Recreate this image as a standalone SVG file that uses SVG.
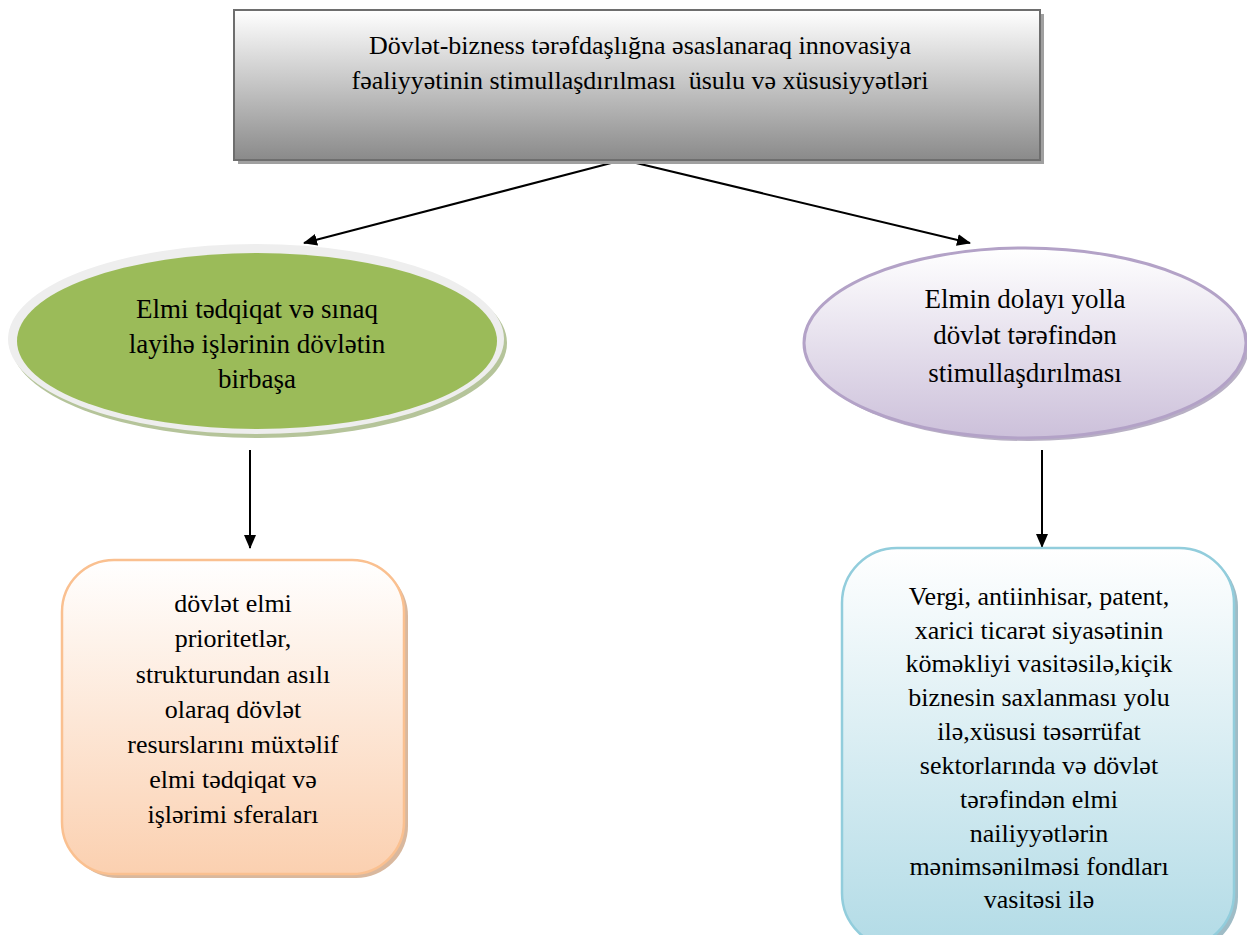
<svg xmlns="http://www.w3.org/2000/svg" width="1247" height="935" viewBox="0 0 1247 935">
<defs>
<linearGradient id="gTop" x1="0" y1="0" x2="0" y2="1"><stop offset="0" stop-color="#ffffff"/><stop offset="1" stop-color="#8a8a8a"/></linearGradient>
<linearGradient id="gPurple" x1="0" y1="0" x2="0" y2="1"><stop offset="0" stop-color="#ffffff"/><stop offset="1" stop-color="#ccc0da"/></linearGradient>
<linearGradient id="gPeach" x1="0" y1="0" x2="0" y2="1"><stop offset="0" stop-color="#ffffff"/><stop offset="1" stop-color="#fbd0b0"/></linearGradient>
<linearGradient id="gBlue" x1="0" y1="0" x2="0" y2="1"><stop offset="0" stop-color="#ffffff"/><stop offset="1" stop-color="#b2dbe6"/></linearGradient>
<marker id="ah" viewBox="0 0 14 12" refX="13" refY="6" markerWidth="14" markerHeight="12" markerUnits="userSpaceOnUse" orient="auto"><path d="M0,0 L14,6 L0,12 z" fill="#000"/></marker>
</defs>
<rect width="1247" height="935" fill="#fff"/>
<g id="connectors" stroke="#000" stroke-width="2" fill="none">
<line x1="615" y1="162" x2="304" y2="243" marker-end="url(#ah)"/>
<line x1="632" y1="162" x2="970" y2="243" marker-end="url(#ah)"/>
<line x1="250" y1="450" x2="250" y2="548" marker-end="url(#ah)"/>
<line x1="1042" y1="450" x2="1042" y2="547" marker-end="url(#ah)"/>
</g>
<g id="top">
<rect x="238" y="14" width="806" height="150" fill="#a0a0a0"/>
<rect x="234" y="10" width="806" height="150" fill="url(#gTop)" stroke="#6e6e6e" stroke-width="2"/>
<text x="640" y="54" font-family="'Liberation Serif', serif" font-size="26" text-anchor="middle">Dövlət-bizness tərəfdaşlığna əsaslanaraq innovasiya</text>
<text x="640" y="89" font-family="'Liberation Serif', serif" font-size="26" text-anchor="middle" xml:space="preserve">fəaliyyətinin stimullaşdırılması  üsulu və xüsusiyyətləri</text>
</g>
<g id="left-ellipse">
<ellipse cx="259" cy="343" rx="248" ry="95" fill="#b5c49a"/>
<ellipse cx="256" cy="339" rx="248" ry="95" fill="#eeeeee"/>
<ellipse cx="257" cy="341" rx="240" ry="88" fill="#9bbb59"/>
<text x="257" y="318" font-family="'Liberation Serif', serif" font-size="27" text-anchor="middle">Elmi tədqiqat və sınaq</text>
<text x="257" y="353" font-family="'Liberation Serif', serif" font-size="27" text-anchor="middle">layihə işlərinin dövlətin</text>
<text x="257" y="388" font-family="'Liberation Serif', serif" font-size="27" text-anchor="middle">birbaşa</text>
</g>
<g id="right-ellipse">
<ellipse cx="1028" cy="346" rx="221" ry="95" fill="#b8b0c4"/>
<ellipse cx="1025" cy="343" rx="221" ry="95" fill="url(#gPurple)" stroke="#b3a2c7" stroke-width="3"/>
<text x="1025" y="308" font-family="'Liberation Serif', serif" font-size="27" text-anchor="middle">Elmin dolayı yolla</text>
<text x="1025" y="344" font-family="'Liberation Serif', serif" font-size="27" text-anchor="middle">dövlət tərəfindən</text>
<text x="1025" y="382" font-family="'Liberation Serif', serif" font-size="27" text-anchor="middle">stimullaşdırılması</text>
</g>
<g id="left-box">
<rect x="66" y="564" width="342" height="314" rx="52" fill="#d9b89e"/>
<rect x="62" y="560" width="342" height="314" rx="52" fill="url(#gPeach)" stroke="#fac090" stroke-width="2.5"/>
<text x="233" y="612" font-family="'Liberation Serif', serif" font-size="26" text-anchor="middle">dövlət elmi</text>
<text x="233" y="647" font-family="'Liberation Serif', serif" font-size="26" text-anchor="middle">prioritetlər,</text>
<text x="233" y="683" font-family="'Liberation Serif', serif" font-size="26" text-anchor="middle">strukturundan asılı</text>
<text x="233" y="718" font-family="'Liberation Serif', serif" font-size="26" text-anchor="middle">olaraq dövlət</text>
<text x="233" y="753" font-family="'Liberation Serif', serif" font-size="26" text-anchor="middle">resurslarını müxtəlif</text>
<text x="233" y="788" font-family="'Liberation Serif', serif" font-size="26" text-anchor="middle">elmi tədqiqat və</text>
<text x="233" y="823" font-family="'Liberation Serif', serif" font-size="26" text-anchor="middle">işlərimi sferaları</text>
</g>
<g id="right-box">
<rect x="846" y="552" width="392" height="400" rx="55" fill="#9fbcc6"/>
<rect x="842" y="548" width="392" height="400" rx="55" fill="url(#gBlue)" stroke="#92cddc" stroke-width="2.5"/>
<text x="1039" y="605" font-family="'Liberation Serif', serif" font-size="26" text-anchor="middle">Vergi, antiinhisar, patent,</text>
<text x="1039" y="639" font-family="'Liberation Serif', serif" font-size="26" text-anchor="middle">xarici ticarət siyasətinin</text>
<text x="1039" y="672" font-family="'Liberation Serif', serif" font-size="26" text-anchor="middle">köməkliyi vasitəsilə,kiçik</text>
<text x="1039" y="706" font-family="'Liberation Serif', serif" font-size="26" text-anchor="middle">biznesin saxlanması yolu</text>
<text x="1039" y="740" font-family="'Liberation Serif', serif" font-size="26" text-anchor="middle">ilə,xüsusi təsərrüfat</text>
<text x="1039" y="774" font-family="'Liberation Serif', serif" font-size="26" text-anchor="middle">sektorlarında və dövlət</text>
<text x="1039" y="808" font-family="'Liberation Serif', serif" font-size="26" text-anchor="middle">tərəfindən elmi</text>
<text x="1039" y="842" font-family="'Liberation Serif', serif" font-size="26" text-anchor="middle">nailiyyətlərin</text>
<text x="1039" y="875" font-family="'Liberation Serif', serif" font-size="26" text-anchor="middle">mənimsənilməsi fondları</text>
<text x="1039" y="908" font-family="'Liberation Serif', serif" font-size="26" text-anchor="middle">vasitəsi ilə</text>
</g>
</svg>
